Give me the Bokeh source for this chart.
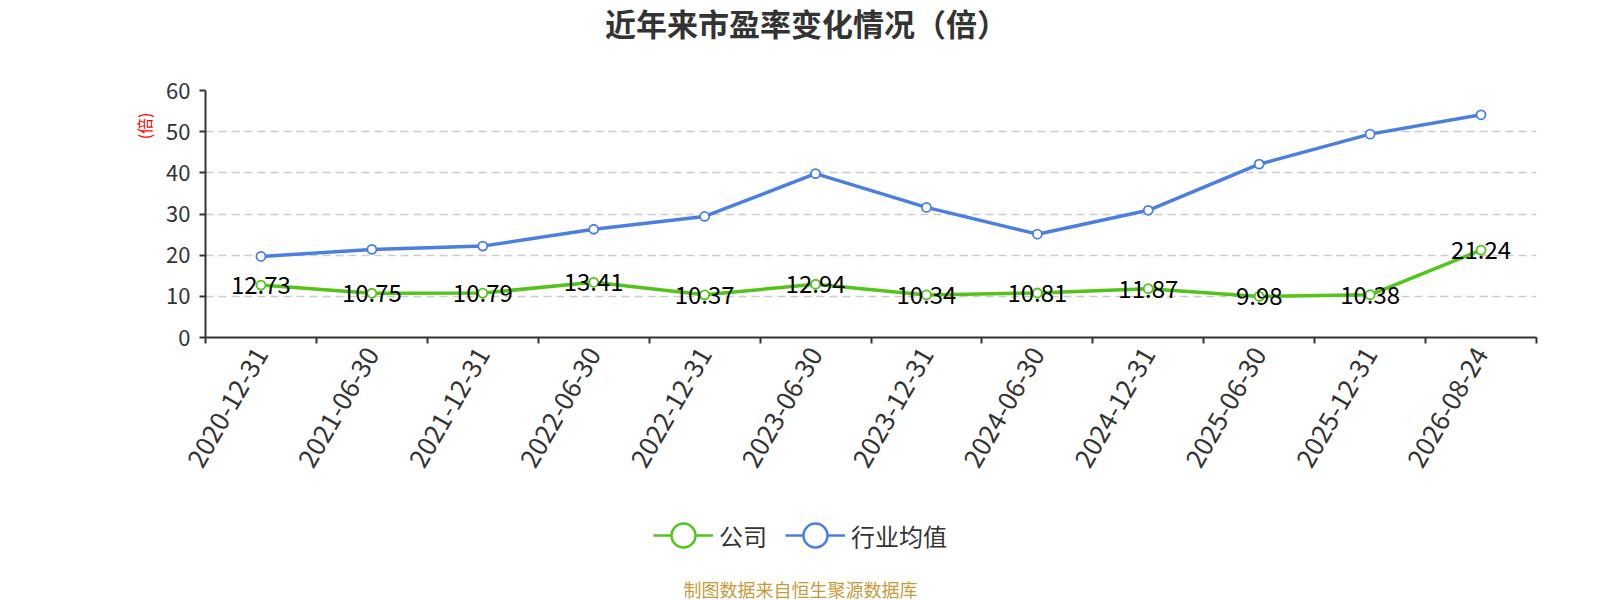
import math
from bokeh.plotting import figure
from bokeh.layouts import column
from bokeh.models import (ColumnDataSource, FixedTicker, Legend, LegendItem,
                          Range1d, Title, Label)
from bokeh.embed import file_html
from bokeh.resources import INLINE
from bokeh.core.properties import value

dates = ["2020-12-31", "2021-06-30", "2021-12-31", "2022-06-30", "2022-12-31",
         "2023-06-30", "2023-12-31", "2024-06-30", "2024-12-31", "2025-06-30",
         "2025-12-31", "2026-08-24"]
company = [12.73, 10.75, 10.79, 13.41, 10.37, 12.94, 10.34, 10.81, 11.87, 9.98, 10.38, 21.24]
industry = [19.7, 21.4, 22.2, 26.3, 29.4, 39.8, 31.6, 25.1, 30.9, 42.1, 49.4, 54.1]
y_ticks = [0, 10, 20, 30, 40, 50, 60]
series_names = ["公司", "行业均值"]

FONT = "Noto Sans CJK SC"
GREEN = "#52c41a"
BLUE = "#4a7ee0"

W = 1600
TOP_H, MAIN_H, BOT_H = 70, 430, 100
FL, FR, FT, FB = 205, 1536, 90, 337   # frame edges in page pixels

xs = [i + 0.5 for i in range(len(dates))]
src = ColumnDataSource(dict(x=xs, company=company, industry=industry,
                            lab=[f"{v:.2f}" for v in company]))

# ---------- title strip (frame is aligned with main frame by the column) ----------
t = figure(width=W, height=TOP_H, output_backend="svg", toolbar_location=None,
           x_range=Range1d(FL, FR), y_range=Range1d(TOP_H, 0),
           x_axis_type=None, y_axis_type=None,
           min_border_left=FL, min_border_right=W - FR, min_border_top=0,
           min_border_bottom=0)
t.outline_line_color = None
t.add_layout(Label(x=806, y=21.5, text="近年来市盈率变化情况（倍）", text_align="center",
                   text_baseline="middle", text_font=FONT, text_font_size="31px",
                   text_font_style="bold", text_color="#333333"))

# ---------- main plot ----------
p = figure(width=W, height=MAIN_H, output_backend="svg", toolbar_location=None,
           x_range=Range1d(0, len(dates)), y_range=Range1d(0, 60),
           min_border_left=FL, min_border_right=W - FR,
           min_border_top=FT - TOP_H, min_border_bottom=TOP_H + MAIN_H - FB)
p.outline_line_color = None

xa = p.xaxis[0]
xa.ticker = FixedTicker(ticks=xs, minor_ticks=list(range(len(dates) + 1)))
xa.major_label_overrides = {x: d for x, d in zip(xs, dates)}
xa.major_tick_line_color = None
xa.major_tick_out = 6
xa.minor_tick_line_color = "#333333"
xa.minor_tick_line_width = 2
xa.minor_tick_out = 6
xa.minor_tick_in = 0
xa.axis_line_color = "#333333"
xa.axis_line_width = 2
xa.major_label_orientation = math.pi / 3
xa.major_label_text_font = FONT
xa.major_label_text_font_size = "26px"
xa.major_label_text_color = "#333333"
xa.major_label_standoff = 6

ya = p.yaxis[0]
ya.ticker = FixedTicker(ticks=y_ticks)
ya.minor_tick_line_color = None
ya.major_tick_line_color = "#333333"
ya.major_tick_line_width = 2
ya.major_tick_out = 6
ya.major_tick_in = 0
ya.axis_line_color = "#333333"
ya.axis_line_width = 2
ya.major_label_text_font = FONT
ya.major_label_text_font_size = "22px"
ya.major_label_text_color = "#333333"
ya.major_label_standoff = 9

p.xgrid.grid_line_color = None
p.ygrid.grid_line_color = "#cccccc"
p.ygrid.grid_line_dash = "8 5"
p.ygrid.grid_line_width = 1.3

p.line("x", "industry", source=src, color=BLUE, line_width=3.5)
p.scatter("x", "industry", source=src, size=9, fill_color="white",
          line_color=BLUE, line_width=1.8)
p.line("x", "company", source=src, color=GREEN, line_width=3.5)
p.scatter("x", "company", source=src, size=9, fill_color="white",
          line_color=GREEN, line_width=1.8)
p.text("x", "company", text="lab", source=src, text_align="center",
       text_baseline="middle", text_font=value(FONT), text_font_size="24px",
       text_color="black")

p.add_layout(Title(text="(倍)", align="right", offset=22,
                   text_font=FONT, text_font_size="16px", text_font_style="normal",
                   text_color="red", standoff=16), "left")

# ---------- legend + footer strip ----------
b = figure(width=W, height=BOT_H, output_backend="svg", toolbar_location=None,
           x_range=Range1d(FL, FR), y_range=Range1d(0, BOT_H),
           x_axis_type=None, y_axis_type=None,
           min_border_left=FL, min_border_right=W - FR, min_border_top=0,
           min_border_bottom=0)
b.outline_line_color = None
nan = float("nan")
dummy = ColumnDataSource(dict(x=[nan], y=[nan]))
lg1 = b.line("x", "y", source=dummy, color=GREEN, line_width=2.5)
sg1 = b.scatter("x", "y", source=dummy, size=29, fill_color="white",
                line_color=GREEN, line_width=2.5)
lg2 = b.line("x", "y", source=dummy, color=BLUE, line_width=2.5)
sg2 = b.scatter("x", "y", source=dummy, size=29, fill_color="white",
                line_color=BLUE, line_width=2.5)
GH = 60
legend = Legend(items=[LegendItem(label=series_names[0], renderers=[lg1, sg1]),
                       LegendItem(label=series_names[1], renderers=[lg2, sg2])],
                location=(653 - FL, 600 - 535 - GH / 2), orientation="horizontal",
                glyph_width=GH, glyph_height=GH, label_standoff=6, spacing=18,
                padding=0, margin=0, border_line_color=None,
                background_fill_alpha=0, label_text_font=FONT,
                label_text_font_size="24px", label_text_color="#333333")
b.add_layout(legend, "center")
b.add_layout(Label(x=800, y=600 - 588, text="制图数据来自恒生聚源数据库",
                   text_align="center", text_baseline="middle", text_font=FONT,
                   text_font_size="18px", text_color="#c99a3a"))

layout = column(t, p, b, spacing=0)
open("out.html", "w").write(file_html(layout, INLINE))
